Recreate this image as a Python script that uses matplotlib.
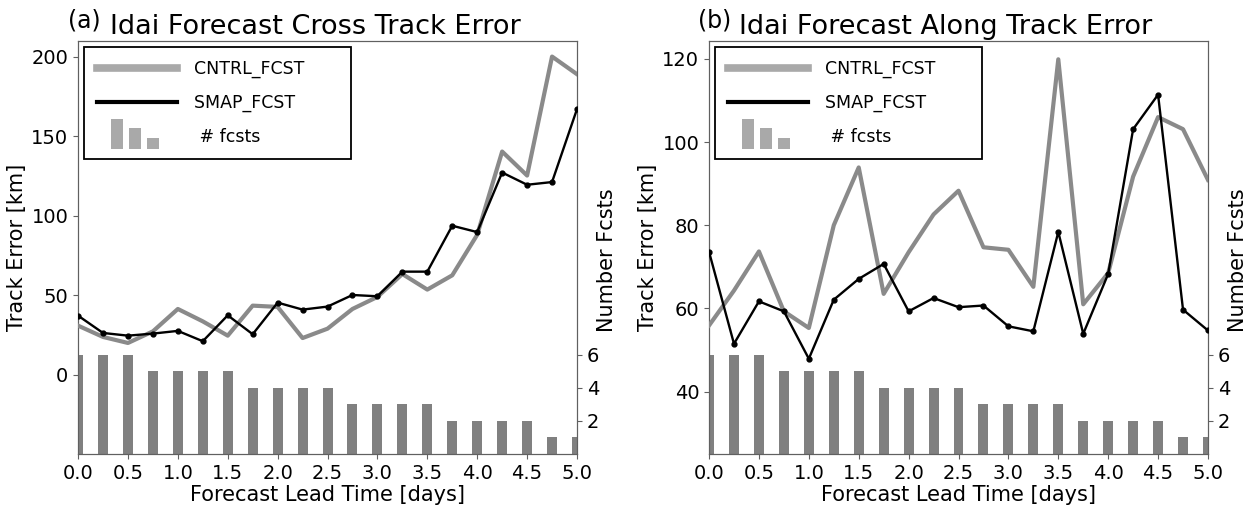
import matplotlib
matplotlib.use('Agg')
import matplotlib.pyplot as plt
from matplotlib.lines import Line2D
from matplotlib.patches import Rectangle
from matplotlib.legend_handler import HandlerBase

# lead times (days) and number of forecasts verifying at each lead
lead_days = [0.0, 0.25, 0.5, 0.75, 1.0, 1.25, 1.5, 1.75, 2.0, 2.25, 2.5,
             2.75, 3.0, 3.25, 3.5, 3.75, 4.0, 4.25, 4.5, 4.75, 5.0]
n_fcsts = [6, 6, 6, 5, 5, 5, 5, 4, 4, 4, 4, 3, 3, 3, 3, 2, 2, 2, 2, 1, 1]

# cross track error [km]
cntrl_cross = [30.8, 23.7, 19.9, 27.2, 41.3, 33.5, 24.5, 43.4, 42.6, 23.0, 28.9,
               41.3, 48.9, 63.3, 53.5, 62.5, 88.0, 140.4, 125.3, 200.2, 189.1]
smap_cross = [37.1, 26.2, 24.5, 25.8, 27.5, 21.0, 37.3, 25.4, 45.3, 40.9, 42.8,
              50.1, 49.3, 64.8, 64.8, 93.7, 89.7, 127.2, 119.5, 121.2, 167.1]

# along track error [km]
cntrl_along = [55.9, 64.3, 73.7, 59.3, 55.3, 80.0, 93.9, 63.5, 73.5, 82.6, 88.3,
               74.7, 74.1, 65.2, 119.9, 61.0, 68.5, 91.7, 106.0, 103.1, 90.9]
smap_along = [73.6, 51.5, 61.7, 59.3, 47.9, 62.1, 67.1, 70.7, 59.3, 62.5, 60.3,
              60.7, 55.7, 54.5, 78.4, 53.9, 68.3, 103.1, 111.4, 59.7, 54.7]

plt.rcParams['font.family'] = ['DejaVu Sans']

GRAY_LINE = '#8a8a8a'
GRAY_BAR = '#808080'
LEG_GRAY = '#a9a9a9'
SPINE = '#606060'


class BarsHandler(HandlerBase):
    """Three shrinking bars as the legend key for the forecast counts."""
    def create_artists(self, legend, orig_handle, xdescent, ydescent,
                       width, height, fontsize, trans):
        bw = 0.69 * fontsize
        gap = 0.35 * fontsize
        total = 3 * bw + 2 * gap
        x0 = (width - total) / 2 - xdescent - 0.1 * fontsize
        y0 = height / 2 - ydescent - 0.75 * fontsize
        arts = []
        for i, h in enumerate([1.73, 1.19, 0.63]):
            r = Rectangle((x0 + i * (bw + gap), y0), bw, h * fontsize,
                          facecolor=LEG_GRAY, edgecolor='none', transform=trans)
            arts.append(r)
        return arts


def panel(ax, cntrl, smap, ylim, yticks, title, tag):
    ax2 = ax.twinx()
    ax2.bar(lead_days, n_fcsts, width=0.1, color=GRAY_BAR, zorder=1)
    ax2.set_ylim(0, 25)
    ax2.set_yticks([2, 4, 6])
    ax2.set_ylabel('Number Fcsts', fontsize=15)
    ax2.yaxis.set_label_coords(1.04, 0.47)
    ax.set_zorder(ax2.get_zorder() + 1)
    ax.patch.set_visible(False)

    ax.plot(lead_days, cntrl, color=GRAY_LINE, lw=3.0, zorder=3)
    ax.plot(lead_days, smap, color='black', lw=1.7, marker='o', ms=3.5, zorder=4)
    ax.set_xlim(0, 5)
    ax.set_ylim(*ylim)
    ax.set_yticks(yticks)
    ax.set_xticks([0, 0.5, 1, 1.5, 2, 2.5, 3, 3.5, 4, 4.5, 5])
    ax.set_xlabel('Forecast Lead Time [days]', fontsize=15, labelpad=2)
    ax.set_ylabel('Track Error [km]', fontsize=15, labelpad=3)
    ax.set_title(title, fontsize=19.5, pad=5, x=0.475)
    ax.text(0.012, 1.05, tag, transform=ax.transAxes, fontsize=17,
            ha='center', va='center')

    for a in (ax, ax2):
        a.tick_params(labelsize=14, color=SPINE)
        for s in a.spines.values():
            s.set_color(SPINE)

    handles = [Line2D([], [], color=LEG_GRAY, lw=5.5),
               Line2D([], [], color='black', lw=3.0),
               'bars']
    labels = ['CNTRL_FCST      ', 'SMAP_FCST      ', ' # fcsts']
    leg = ax.legend(handles, labels, loc='upper left', fontsize=12.5,
                    handlelength=4.6, handletextpad=1.0, labelspacing=0.9,
                    borderpad=0.75, borderaxespad=0.35, fancybox=False,
                    handler_map={str: BarsHandler()})
    leg.get_frame().set_edgecolor('black')
    leg.get_frame().set_linewidth(1.3)
    leg.get_frame().set_alpha(1)


fig = plt.figure(figsize=(12.47, 5.08), dpi=100)
ax_a = fig.add_axes([0.0626, 0.1063, 0.4001, 0.8130])
ax_b = fig.add_axes([0.5686, 0.1063, 0.4001, 0.8130])

panel(ax_a, cntrl_cross, smap_cross, (-50, 210), [0, 50, 100, 150, 200],
      'Idai Forecast Cross Track Error', '(a)')
panel(ax_b, cntrl_along, smap_along, (25, 124.3), [40, 60, 80, 100, 120],
      'Idai Forecast Along Track Error', '(b)')

fig.savefig('out.png', dpi=100)
